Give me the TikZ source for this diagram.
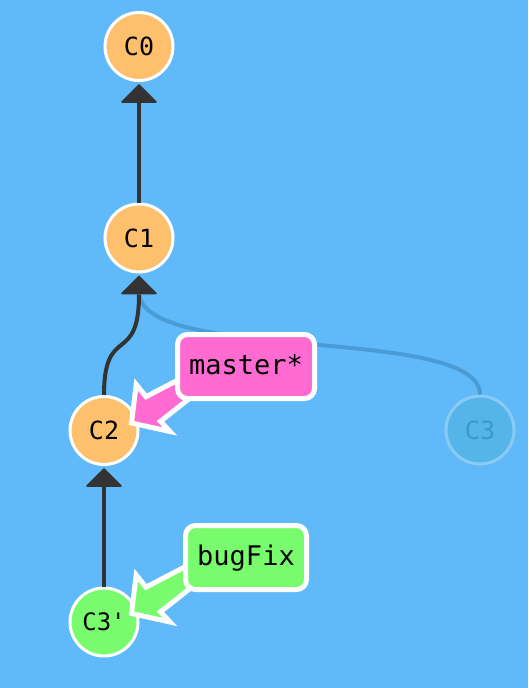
\documentclass[tikz,border=0pt]{standalone}
\usepackage{fontspec}
\newfontfamily\monofont{DejaVu Sans Mono}
\usetikzlibrary{calc}
\definecolor{bg}{HTML}{60BAF9}
\definecolor{commitorange}{HTML}{FFC06E}
\definecolor{branchpink}{HTML}{FF6BD0}
\definecolor{branchgreen}{HTML}{78FC6E}
\definecolor{edgedark}{HTML}{333333}
\definecolor{ghostfill}{HTML}{55B5EA}
\definecolor{ghostring}{HTML}{8ACAF3}
\definecolor{ghosttext}{HTML}{3C98CF}
\definecolor{ghostedge}{HTML}{4A9CD6}
\begin{document}
\begin{tikzpicture}[x=1pt,y=-1pt,
  commit/.style={circle, minimum size=68pt, inner sep=0pt, draw=white, line width=3pt,
    fill=commitorange, text=black, font=\monofont\fontsize{25}{25}\selectfont},
  ghost/.style={commit, fill=ghostfill, draw=ghostring, text=ghosttext},
  edge/.style={draw=edgedark, line width=4pt},
  arrowhead/.style={fill=edgedark, draw=edgedark, line width=1.5pt, line join=round},
  ghostedge/.style={draw=ghostedge, line width=4pt},
  branchbox/.style={rectangle, rounded corners=10pt, draw=white, line width=5pt,
    minimum height=64pt, inner sep=0pt, text height=19pt, text depth=3pt,
    font=\monofont\fontsize{27}{27}\selectfont, text=black},
  branchptr/.style={draw=white, line width=5pt, line join=miter}
]
\fill[bg] (0,0) rectangle (528,688);
\useasboundingbox (0,0) rectangle (528,688);

% ghost commit and its edge
\node[ghost] (C3) at (480,430) {C3};
\coordinate (C1ghostend) at (139,292);
\draw[ghostedge] (C3.north) .. controls +(0,-70) and +(0,72) .. (C1ghostend);

% commits
\node[commit] (C0) at (139,46.5) {C0};
\node[commit] (C1) at (139,238) {C1};
\node[commit] (C2) at (104,430.5) {C2};
\node[commit, fill=branchgreen, font=\monofont\fontsize{24}{24}\selectfont] (C3p) at (104,622) {C3'};

% parent edges
\draw[edge] (C1.north) -- ($(C0.south)+(0,19)$);
\draw[arrowhead] ($(C0.south)+(0,3)$) -- ++(17,17) -- ++(-34,0) -- cycle;

\draw[edge] (C2.north) .. controls +(0,-72) and +(0,72) .. ($(C1.south)+(0,21)$);
\draw[arrowhead] ($(C1.south)+(0,3)$) -- ++(17,17) -- ++(-34,0) -- cycle;

\draw[edge] (C3p.north) -- ($(C2.south)+(0,19)$);
\draw[arrowhead] ($(C2.south)+(0,3)$) -- ++(17,17) -- ++(-34,0) -- cycle;

% branch pointers
\draw[branchptr, fill=branchpink] (131.5,423) -- (136.2,384.5) -- (146,396.7) -- (200,368.5)
  -- (215,378.3) -- (160.5,421.3) -- (170,431.5) -- cycle;
\node[branchbox, fill=branchpink, minimum width=137pt] (master) at (246,366.5) {master*};

\begin{scope}[shift={(0,190.5)}]
\draw[branchptr, fill=branchgreen] (131.5,423) -- (136.2,384.5) -- (146,396.7) -- (200,368.5)
  -- (215,378.3) -- (160.5,421.3) -- (170,431.5) -- cycle;
\end{scope}
\node[branchbox, fill=branchgreen, minimum width=121pt] (bugFix) at (246,557.5) {bugFix};
\end{tikzpicture}
\end{document}
